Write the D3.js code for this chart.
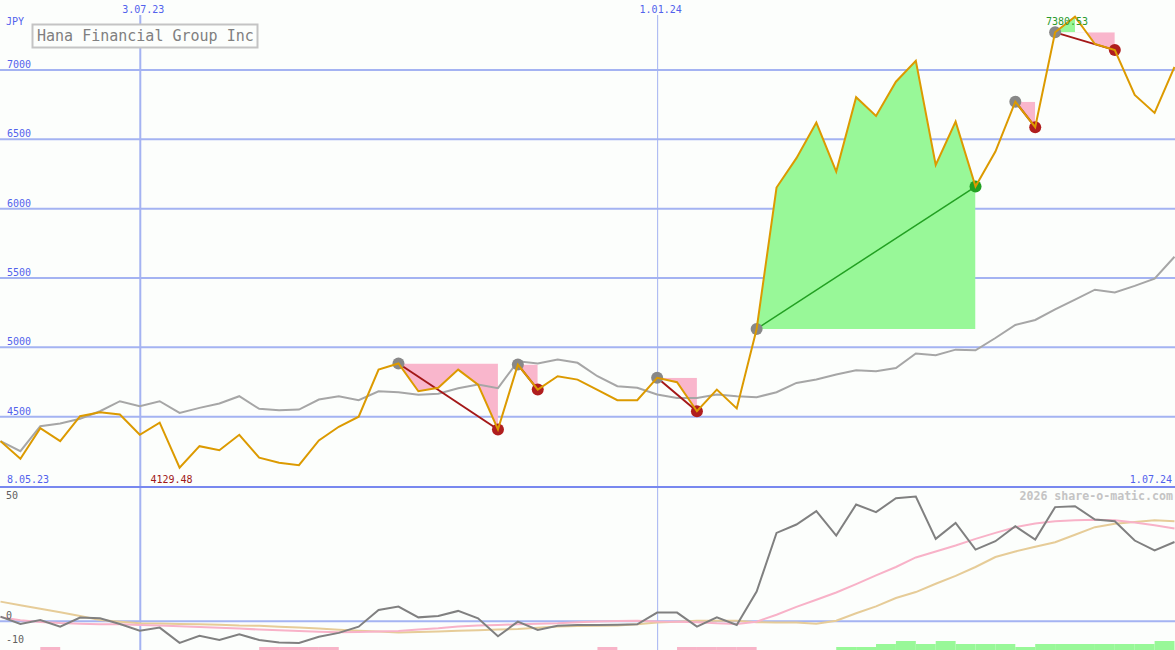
<!DOCTYPE html>
<html><head><meta charset="utf-8">
<script src="https://cdn.jsdelivr.net/npm/d3@7"></script>
<style>
html,body{margin:0;padding:0;background:#fcfefc;}
svg{display:block;}
text{font-family:"DejaVu Sans Mono",monospace;}
</style></head><body>
<svg id="c" width="1175" height="650"></svg>
<script>
// ---------- data ----------
const title = "Hana Financial Group Inc";
const currency = "JPY";
const firstPointDate = "2023-05-15";      // weekly closes, Mondays
const rangeStartLabel = "8.05.23";
const rangeEndLabel = "1.07.24";
const dateTickDates = ["2023-07-03", "2024-01-01"];
const dateTickLabels = ["3.07.23", "1.01.24"];
const priceTicks = [4500, 5000, 5500, 6000, 6500, 7000];
const oscTicks = [50, 0, -10];
const copyright = "2026 share-o-matic.com";

const price = [4320,4193,4414,4320,4500,4529,4512,4366,4453,4129.48,
  4284,4255,4366,4201,4165,4147,4325,4424,4496,4836,
  4880,4680,4705,4836,4728,4404,4872,4692,4788,4764,
  4690,4615,4615,4777,4745,4536,4692,4556,5129,6149,
  6361,6617,6264,6800,6665,6912,7063,6312,6624,6156,
  6408,6768,6584,7268,7380.53,7184,7140,6816,6687,7018];

const average = [4320,4248,4428,4448,4482,4536,4608,4572,4608,4524,
  4560,4592,4644,4553,4543,4548,4620,4644,4615,4680,
  4673,4654,4662,4702,4728,4702,4896,4880,4908,4885,
  4788,4716,4705,4656,4632,4632,4656,4644,4637,4673,
  4740,4764,4800,4831,4824,4848,4952,4940,4980,4975,
  5064,5158,5194,5270,5340,5412,5392,5440,5492,5650];

const momentum = [1.7,-1.4,0.3,-2.5,1.3,1.0,-1.4,-4.2,-2.9,-9.3,
  -6.3,-8.1,-5.7,-8.1,-9.1,-9.3,-6.7,-5.1,-2.5,4.5,
  5.9,1.4,2.0,4.1,1.0,-6.5,-0.4,-3.9,-2.1,-1.8,
  -1.8,-1.7,-1.5,3.4,3.4,-2.5,1.4,-1.8,12.2,36.8,
  40.3,45.9,35.7,48.7,45.5,51.3,52.0,34.3,41.0,29.8,
  33.3,39.6,34.0,47.6,48.0,42.4,41.7,33.6,29.5,33.0];

const momentumFast = [1.5,0.2,-0.5,-1.0,-1.3,-1.5,-1.5,-1.8,-2.0,-2.3,
  -2.6,-3.0,-3.3,-3.7,-4.0,-4.3,-4.6,-4.8,-4.7,-4.5,
  -4.3,-3.7,-3.2,-2.4,-2.0,-1.8,-1.5,-1.3,-1.1,-0.6,
  -0.3,-0.1,0.0,-0.3,-0.4,-0.6,-1.1,-1.4,-0.4,2.5,
  5.8,8.8,11.8,15.3,19.0,22.5,26.5,29.0,31.5,34.3,
  36.8,39.2,40.7,41.7,42.1,42.3,42.1,41.2,40.0,38.6];

const momentumSlow = [8.0,6.5,5.0,3.5,2.0,0.3,-0.4,-1.1,-1.2,-1.4,
  -1.5,-1.7,-2.0,-2.1,-2.5,-2.9,-3.3,-3.8,-4.2,-4.5,
  -4.9,-4.7,-4.5,-4.2,-4.0,-3.7,-3.5,-3.0,-2.4,-2.2,
  -2.1,-2.0,-1.5,-0.8,-0.4,0.0,0.0,0.0,-0.6,-0.8,
  -0.8,-1.3,0.0,3.1,6.0,9.5,12.0,15.5,18.8,22.5,
  26.7,29.0,31.0,32.9,36.0,39.2,40.6,41.4,42.1,41.7];

// signal histogram, one value per week interval (negative = pink, positive = green)
const signal = [0,0,-1,0,0,0,0,0,0,0,
  0,0,0,-1,-1,-1,-1,0,0,0,
  0,0,0,0,0,0,0,0,0,0,
  -1,0,0,0,-1,-1,-1,-1,0,0,
  0,0,1,1,2,3,2,3,2,2,
  2,1,2,2,2,2,2,2,3];

const fallSegments = [[20,25],[26,27],[33,35],[51,52],[53,56]];
const riseSegments = [[38,49]];
const minLabel = "4129.48";
const maxLabel = "7380.53";

// ---------- layout ----------
const W = 1175, H = 650, SEP = 487;
const svg = d3.select("#c");
const parse = d3.timeParse("%Y-%m-%d");
const d0 = parse(firstPointDate);
const dates = price.map((_, i) => d3.timeDay.offset(d0, 7 * i));
const idx = d3.range(price.length);

const x = d3.scaleTime().domain([dates[0], dates[dates.length - 1]]).range([0.5, 1174.5]);
const yP = d3.scaleLinear().domain([4500, 7000]).range([416.2, 69.5]);
const yO = d3.scaleLinear().domain([0, 50]).range([620.7, 501.4]);
const yB = d3.scaleLinear().domain([0, 3]).range([H, H - 9]);
const X = i => x(dates[i]);

const C = {
  bg: "#fcfefc", grid: "#a4b3f2", sep: "#7888ef", label: "#5262ec",
  orange: "#dc9a00", avg: "#a6a6a6", pink: "#f9b6cc", green: "#98f898",
  dred: "#a41818", red: "#b01e1e", gdot: "#888888", gline: "#22a022",
  mom: "#808080", momF: "#f8b2c8", momS: "#e6cc98"
};

svg.append("rect").attr("width", W).attr("height", H).attr("fill", C.bg);

const defs = svg.append("defs");
defs.append("clipPath").attr("id", "topClip").append("rect")
  .attr("x", 0).attr("y", 0).attr("width", W).attr("height", SEP);
defs.append("clipPath").attr("id", "botClip").append("rect")
  .attr("x", 0).attr("y", SEP).attr("width", W).attr("height", H - SEP);

// ---------- grid ----------
const gy = svg.append("g").call(
  d3.axisRight(yP).tickValues(priceTicks).tickSize(W).tickFormat(d3.format("d")));
gy.select(".domain").remove();
gy.selectAll("line").attr("stroke", C.grid).attr("stroke-width", 2);
gy.selectAll("text").attr("x", 7).attr("y", 0).attr("dy", -2).attr("text-anchor", "start")
  .attr("fill", C.label).attr("font-size", 10)
  .attr("font-family", "DejaVu Sans Mono, monospace");

const tickDates = dateTickDates.map(parse);
const gx = svg.append("g").attr("transform", `translate(0,${H})`).call(
  d3.axisTop(x).tickValues(tickDates).tickSize(H - 15).tickFormat((d, i) => dateTickLabels[i]));
gx.select(".domain").remove();
gx.selectAll("line").attr("stroke", C.grid).attr("stroke-width", (d, i) => i === 0 ? 2 : 1);
gx.selectAll("text").attr("y", -(H - 13)).attr("dx", 3).attr("dy", 0)
  .attr("fill", C.label).attr("font-size", 10)
  .attr("font-family", "DejaVu Sans Mono, monospace");

const go = svg.append("g").call(
  d3.axisRight(yO).tickValues([0]).tickSize(W).tickFormat(""));
go.select(".domain").remove();
go.selectAll("line").attr("stroke", C.grid).attr("stroke-width", 2);

// ---------- top panel ----------
const topG = svg.append("g").attr("clip-path", "url(#topClip)");

function segArea(p, t, L) {
  return d3.area().x(i => X(i)).y0(yP(L)).y1(i => yP(price[i]))(d3.range(p, t + 1));
}
let cid = 0;
function clipRect(x0, x1, y0, y1) {
  const id = "sc" + (cid++);
  defs.append("clipPath").attr("id", id).append("rect")
    .attr("x", x0).attr("y", y0).attr("width", Math.max(0, x1 - x0)).attr("height", Math.max(0, y1 - y0));
  return `url(#${id})`;
}

fallSegments.forEach(([p, t]) => {
  const L = price[p];
  topG.append("path").attr("d", segArea(p, t, L)).attr("fill", C.pink)
    .attr("clip-path", clipRect(X(p), X(t), yP(L), SEP));
  let m = p;
  for (let i = p; i <= t; i++) if (price[i] > price[m]) m = i;
  if (m > p) {
    topG.append("path").attr("d", segArea(p, t, L)).attr("fill", C.green)
      .attr("clip-path", clipRect(X(p), X(m), 0, yP(L)));
  }
});
riseSegments.forEach(([p, t]) => {
  const L = price[p];
  topG.append("path").attr("d", segArea(p, t, L)).attr("fill", C.green)
    .attr("clip-path", clipRect(X(p), X(t), 0, yP(L)));
});

const lineP = d3.line().x(i => X(i)).y(i => yP(price[i]));
const lineA = d3.line().x(i => X(i)).y(i => yP(average[i]));

topG.append("path").attr("d", lineA(idx)).attr("fill", "none")
  .attr("stroke", C.avg).attr("stroke-width", 2);

fallSegments.forEach(([p, t]) => {
  topG.append("path").attr("d", lineP([p, t])).attr("stroke", C.dred)
    .attr("stroke-width", 2).attr("fill", "none");
});
riseSegments.forEach(([p, t]) => {
  topG.append("path").attr("d", lineP([p, t])).attr("stroke", C.gline)
    .attr("stroke-width", 1.5).attr("fill", "none");
});

const startDots = fallSegments.concat(riseSegments).map(s => s[0]);
const troughDots = fallSegments.map(s => s[1]);
const peakDots = riseSegments.map(s => s[1]);
topG.selectAll(".sd").data(startDots).join("circle")
  .attr("cx", X).attr("cy", i => yP(price[i])).attr("r", 6).attr("fill", C.gdot);
topG.selectAll(".td").data(troughDots).join("circle")
  .attr("cx", X).attr("cy", i => yP(price[i])).attr("r", 6).attr("fill", C.red);
topG.selectAll(".pd").data(peakDots).join("circle")
  .attr("cx", X).attr("cy", i => yP(price[i])).attr("r", 6).attr("fill", C.gline);

topG.append("path").attr("d", lineP(idx)).attr("fill", "none")
  .attr("stroke", C.orange).attr("stroke-width", 2).attr("stroke-linejoin", "miter");

// labels
const minI = price.indexOf(d3.min(price));
const maxI = price.indexOf(d3.max(price));
svg.append("text").attr("x", X(maxI) - 8).attr("y", 25).attr("text-anchor", "middle")
  .attr("font-size", 10).attr("fill", "#2a9a2a").text(maxLabel);
svg.append("text").attr("x", X(minI) - 8).attr("y", 483).attr("text-anchor", "middle")
  .attr("font-size", 10).attr("fill", "#a01818").text(minLabel);

svg.append("text").attr("x", 6).attr("y", 25).attr("font-size", 10)
  .attr("fill", C.label).text(currency);
svg.append("text").attr("x", 7).attr("y", 483).attr("font-size", 10)
  .attr("fill", C.label).text(rangeStartLabel);
svg.append("text").attr("x", 1172).attr("y", 483).attr("font-size", 10)
  .attr("text-anchor", "end").attr("fill", C.label).text(rangeEndLabel);

svg.append("rect").attr("x", 32.5).attr("y", 24.5).attr("width", 225).attr("height", 23)
  .attr("fill", C.bg).attr("stroke", "#c4c4c4").attr("stroke-width", 2);
svg.append("text").attr("x", 37).attr("y", 41).attr("font-size", 15)
  .attr("fill", "#808080").text(title);

// ---------- bottom panel ----------
const botG = svg.append("g").attr("clip-path", "url(#botClip)");

botG.selectAll(".bar").data(signal.map((v, i) => ({v, i})).filter(d => d.v !== 0)).join("rect")
  .attr("x", d => X(d.i)).attr("width", d => X(d.i + 1) - X(d.i))
  .attr("y", d => yB(Math.abs(d.v))).attr("height", d => H - yB(Math.abs(d.v)))
  .attr("fill", d => d.v < 0 ? "#f8b4c8" : C.green);

const lineO = arr => d3.line().x(i => X(i)).y(i => yO(arr[i]))(idx);
botG.append("path").attr("d", lineO(momentumSlow)).attr("fill", "none")
  .attr("stroke", C.momS).attr("stroke-width", 2);
botG.append("path").attr("d", lineO(momentumFast)).attr("fill", "none")
  .attr("stroke", C.momF).attr("stroke-width", 2);
botG.append("path").attr("d", lineO(momentum)).attr("fill", "none")
  .attr("stroke", C.mom).attr("stroke-width", 2);

svg.selectAll(".ol").data(oscTicks).join("text")
  .attr("x", 6).attr("y", d => yO(d) - 2).attr("font-size", 10)
  .attr("fill", "#606060").text(d => d);

svg.append("text").attr("x", 1173).attr("y", 500).attr("text-anchor", "end")
  .attr("font-size", 11.6).attr("font-weight", "bold").attr("fill", "#c4c4c4").text(copyright);

// separator
svg.append("line").attr("x1", 0).attr("x2", W).attr("y1", SEP).attr("y2", SEP)
  .attr("stroke", C.sep).attr("stroke-width", 2);
</script>
</body></html>
